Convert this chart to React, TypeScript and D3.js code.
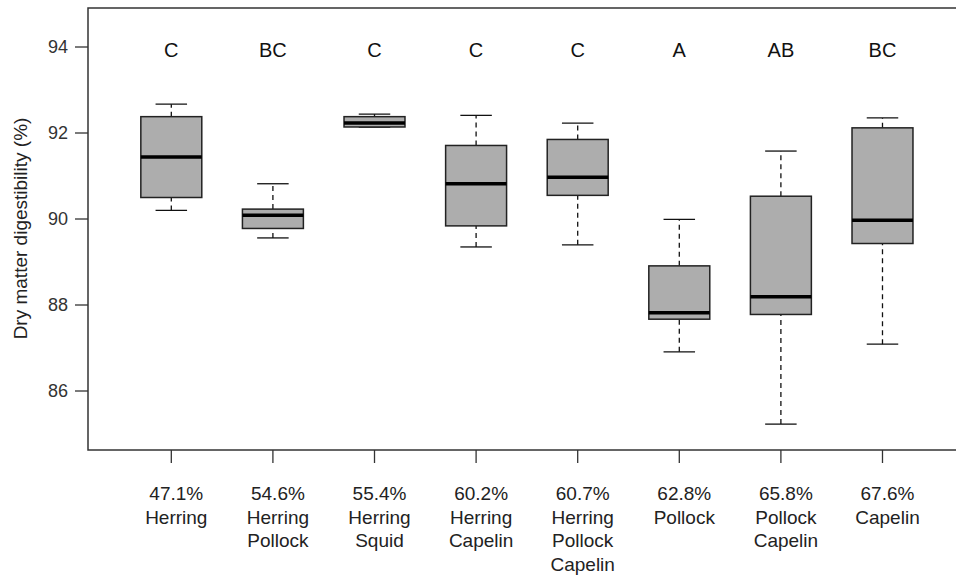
import React, { useRef, useEffect } from "react";
import * as d3 from "d3";

const diets = [
  ["47.1%", "Herring"],
  ["54.6%", "Herring", "Pollock"],
  ["55.4%", "Herring", "Squid"],
  ["60.2%", "Herring", "Capelin"],
  ["60.7%", "Herring", "Pollock", "Capelin"],
  ["62.8%", "Pollock"],
  ["65.8%", "Pollock", "Capelin"],
  ["67.6%", "Capelin"],
];
const groups = ["C", "BC", "C", "C", "C", "A", "AB", "BC"];

// whisker low, q1, median, q3, whisker high
const lowW = [90.2, 89.56, 92.14, 89.35, 89.4, 86.91, 85.23, 87.09];
const q1 = [90.5, 89.78, 92.14, 89.84, 90.55, 87.67, 87.78, 89.43];
const med = [91.44, 90.09, 92.23, 90.82, 90.97, 87.82, 88.19, 89.97];
const q3 = [92.38, 90.23, 92.38, 91.71, 91.85, 88.91, 90.53, 92.12];
const highW = [92.67, 90.82, 92.44, 92.41, 92.23, 89.99, 91.58, 92.35];

const yTicks = [86, 88, 90, 92, 94];

const App = () => {
  const canvas = useRef<SVGSVGElement>(null);
  const width = 956;
  const height = 576;

  const x = d3.scaleLinear().domain([0.18, 8.82]).range([88, 965.8]);
  const y = d3.scaleLinear().domain([84.628, 94.907]).range([450, 8]);

  useEffect(() => {
    const svg = d3.select(canvas.current);
    svg.selectAll("*").remove();
    const font = "'Liberation Sans', Arial, sans-serif";
    const axisCol = "#333";

    // frame
    svg.append("rect")
      .attr("x", x(0.18)).attr("y", y(94.907))
      .attr("width", x(8.82) - x(0.18)).attr("height", y(84.628) - y(94.907))
      .attr("fill", "none").attr("stroke", axisCol).attr("stroke-width", 1.5);

    // y axis ticks
    const ya = svg.append("g");
    yTicks.forEach(t => {
      ya.append("line")
        .attr("x1", x(0.18) - 13).attr("x2", x(0.18))
        .attr("y1", y(t)).attr("y2", y(t))
        .attr("stroke", axisCol).attr("stroke-width", 1.3);
      ya.append("text")
        .attr("x", x(0.18) - 20).attr("y", y(t))
        .attr("dy", "0.35em").attr("text-anchor", "end")
        .attr("font-family", font).attr("font-size", 18).attr("fill", "#333")
        .text(t);
    });

    svg.append("text")
      .attr("transform", `translate(27,228.5) rotate(-90)`)
      .attr("text-anchor", "middle")
      .attr("font-family", font).attr("font-size", 19).attr("fill", "#222")
      .text("Dry matter digestibility (%)");

    const bw = 0.3;
    const cap = 0.155;
    diets.forEach((lines, i) => {
      const c = i + 1;
      const g = svg.append("g");
      // x tick
      g.append("line")
        .attr("x1", x(c)).attr("x2", x(c))
        .attr("y1", y(84.628)).attr("y2", y(84.628) + 13)
        .attr("stroke", axisCol).attr("stroke-width", 1.3);
      // whiskers
      [[lowW[i], q1[i]], [q3[i], highW[i]]].forEach(([a, b]) => {
        g.append("line")
          .attr("x1", x(c)).attr("x2", x(c))
          .attr("y1", y(a)).attr("y2", y(b))
          .attr("stroke", "#111").attr("stroke-width", 1.3)
          .attr("stroke-dasharray", "5,4");
      });
      [lowW[i], highW[i]].forEach(v => {
        g.append("line")
          .attr("x1", x(c - cap)).attr("x2", x(c + cap))
          .attr("y1", y(v)).attr("y2", y(v))
          .attr("stroke", "#111").attr("stroke-width", 1.3);
      });
      g.append("rect")
        .attr("x", x(c - bw)).attr("y", y(q3[i]))
        .attr("width", x(c + bw) - x(c - bw))
        .attr("height", y(q1[i]) - y(q3[i]))
        .attr("fill", "#adadad").attr("stroke", "#222").attr("stroke-width", 1.5);
      g.append("line")
        .attr("x1", x(c - bw)).attr("x2", x(c + bw))
        .attr("y1", y(med[i])).attr("y2", y(med[i]))
        .attr("stroke", "#000").attr("stroke-width", 3.5);
      // group letter
      g.append("text")
        .attr("x", x(c)).attr("y", 57)
        .attr("text-anchor", "middle")
        .attr("font-family", font).attr("font-size", 20).attr("fill", "#111")
        .text(groups[i]);
      // category label
      const t = g.append("text")
        .attr("text-anchor", "middle")
        .attr("font-family", font).attr("font-size", 19).attr("fill", "#222");
      lines.forEach((l, k) => {
        t.append("tspan").attr("x", x(c) + 5).attr("y", 500 + k * 23.5).text(l);
      });
    });
  });

  return (
    <div>
      <style>{"body{margin:0}"}</style>
      <svg ref={canvas} width={width} height={height} style={{ display: "block", background: "#fff" }} />
    </div>
  );
};

export default App;
